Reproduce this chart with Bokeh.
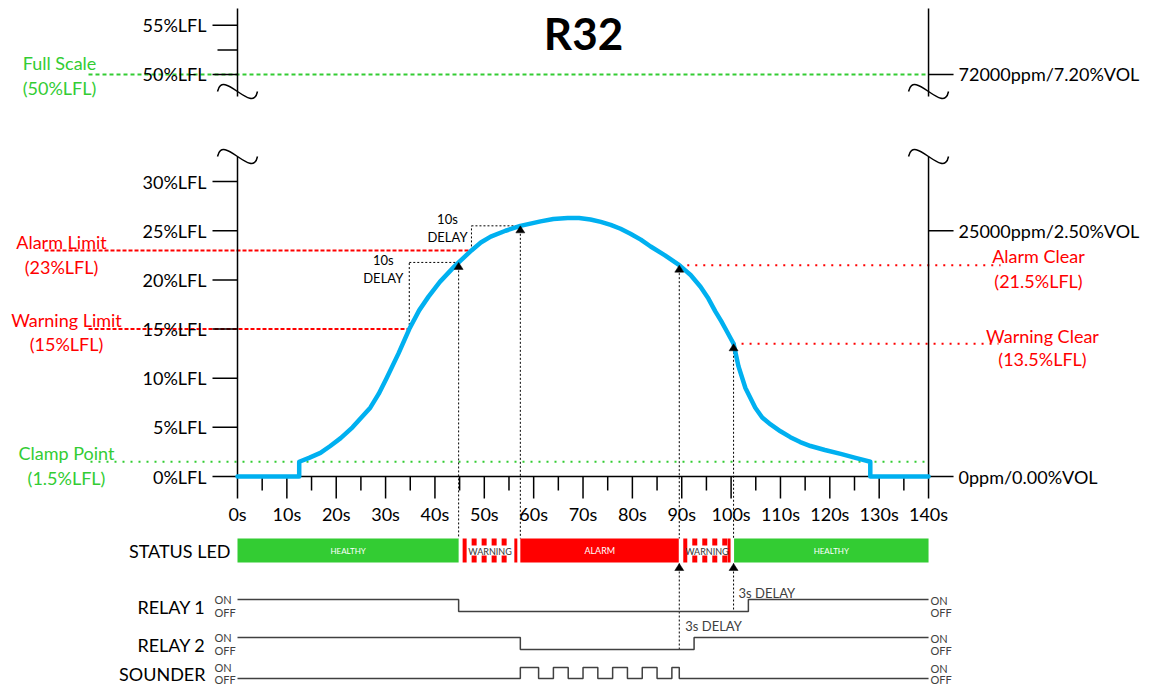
import numpy as np
from bokeh.plotting import figure
from bokeh.models import Range1d
from bokeh.core.properties import value
from bokeh.embed import file_html
from bokeh.resources import INLINE

# ---------------- data ----------------
title = "R32"
time_s = [0, 12.5, 12.5, 14.5, 16.8, 18.8, 20.9, 23.3, 25.1, 26.9,
          28.6, 30.2, 32.6, 34.8, 36.8, 38.7, 41.0, 44.0, 47.4, 49.3,
          51.3, 54.3, 57.3, 61.4, 64.0, 66.9, 69.2, 71.5, 73.6, 75.6,
          77.6, 79.6, 81.7, 83.7, 86.6, 89.5, 91.8, 93.8, 95.4, 96.8,
          98.0, 99.1, 100.5, 101.5, 102.9, 104.9, 106.3, 108.0, 110.0, 112.0,
          114.0, 116.1, 119.0, 122.2, 125.2, 128.2, 128.2, 140]
lfl_pct = [0, 0, 1.5, 1.9, 2.4, 3.1, 3.9, 5.0, 6.0, 7.0,
           8.4, 10.0, 12.5, 15.0, 16.9, 18.3, 19.8, 21.4, 23.0, 23.8,
           24.4, 25.0, 25.5, 25.95, 26.2, 26.3, 26.3, 26.15, 25.9, 25.6,
           25.2, 24.7, 24.1, 23.4, 22.5, 21.5, 20.5, 19.3, 18.1, 16.8,
           15.8, 14.8, 13.5, 11.2, 9.0, 7.0, 6.0, 5.3, 4.6, 4.0,
           3.5, 3.1, 2.7, 2.3, 1.9, 1.5, 0, 0]

full_scale = 50.0
alarm_limit = 23.0
warning_limit = 15.0
alarm_clear = 21.5
warning_clear = 13.5
clamp_point = 1.5

warn_cross = 34.8
warn_on = 44.8
alarm_cross = 47.4
alarm_on = 57.3
alarm_off = 89.5
warn_off = 100.5
relay_delay = 3.0

x_ticks = list(range(0, 141, 10))
x_tick_labels = [f"{t}s" for t in x_ticks]
x_minor = list(range(5, 140, 10))
left_ticks_low = [0, 5, 10, 15, 20, 25, 30]
left_labels_low = [f"{v}%LFL" for v in left_ticks_low]
left_ticks_up = [50, 55]
left_labels_up = ["50%LFL", "55%LFL"]
left_minor_up = [52.5]
right_ticks_low = [0, 25]
right_labels_low = ["0ppm/0.00%VOL", "25000ppm/2.50%VOL"]
right_ticks_up = [50]
right_labels_up = ["72000ppm/7.20%VOL"]

status_start = [0, warn_on, alarm_on, alarm_off, warn_off]
status_end = [warn_on, alarm_on, alarm_off, warn_off, 140]
status_state = ["HEALTHY", "WARNING", "ALARM", "WARNING", "HEALTHY"]

relay1_t = [0, warn_on, warn_off + relay_delay, 140]
relay1_on = [1, 0, 1, 1]
relay2_t = [0, alarm_on, alarm_off + relay_delay, 140]
relay2_on = [1, 0, 1, 1]
sounder_on = [(57.3, 61.0), (64.0, 67.0), (70.0, 73.0), (76.0, 79.0), (82.0, 85.0), (88.0, 89.5)]

# ---------------- layout helpers (reference px -> data units) ----------------
def X(px):
    return (px - 237.0) / 4.936

def Y(py):
    return (476.0 - py) / 9.83

def DX(px):
    return px / 4.936

def DY(py):
    return py / 9.83

UP = 9.1  # upper (broken) panel: plotted value = %LFL - UP

FONT = value("Lato")
GREEN = "#33CC33"
RED = "#FF0000"
BLUE = "#00B0F0"
INK = "#000000"
DARK = "#404040"

p = figure(width=1147, height=687, x_range=Range1d(X(0), X(1147)),
           y_range=Range1d(Y(687), Y(0)), x_axis_type=None, y_axis_type=None,
           toolbar_location=None, output_backend="svg", min_border=0)
p.outline_line_color = None
p.background_fill_color = "white"
p.border_fill_color = "white"


def txt(x, y, t, size=18, color=INK, align="left", style="normal"):
    p.text(x=x, y=y, text=t, text_font=FONT, text_font_size=f"{size}px",
           text_color=color, text_align=align, text_baseline="middle",
           text_font_style=style)


# ---------------- threshold lines ----------------
p.segment(x0=[X(88)], y0=[full_scale - UP], x1=[140], y1=[full_scale - UP],
          line_color=GREEN, line_width=2, line_dash="4 3")
p.segment(x0=[X(90)], y0=[clamp_point], x1=[140], y1=[clamp_point],
          line_color=GREEN, line_width=2, line_dash="2 6")
p.segment(x0=[X(44), X(88)], y0=[alarm_limit, warning_limit],
          x1=[alarm_cross, warn_cross], y1=[alarm_limit, warning_limit],
          line_color=RED, line_width=2, line_dash="4 2")
p.segment(x0=[alarm_off, warn_off], y0=[alarm_clear, warning_clear],
          x1=[X(1000), X(998)], y1=[alarm_clear, warning_clear],
          line_color=RED, line_width=2, line_dash="2 6")

# threshold labels
txt([X(59), X(59)], [Y(62), Y(87)], ["Full Scale", "(50%LFL)"], color=GREEN, align="center")
txt([X(61), X(61)], [Y(241), Y(266)], ["Alarm Limit", "(23%LFL)"], color=RED, align="center")
txt([X(66), X(66)], [Y(319), Y(343)], ["Warning Limit", "(15%LFL)"], color=RED, align="center")
txt([X(66), X(66)], [Y(452), Y(477)], ["Clamp Point", "(1.5%LFL)"], color=GREEN, align="center")
txt([X(1038), X(1038)], [Y(255), Y(280)], ["Alarm Clear", "(21.5%LFL)"], color=RED, align="center")
txt([X(1042), X(1042)], [Y(335), Y(358)], ["Warning Clear", "(13.5%LFL)"], color=RED, align="center")

# ---------------- axes ----------------
for ax in (0, 140):
    p.segment(x0=[ax, ax], y0=[Y(8), Y(156)], x1=[ax, ax], y1=[Y(96), 0],
              line_color=INK, line_width=1.5)
    for cy in (91, 156):
        p.bezier(x0=[ax - DX(20)], y0=[Y(cy)], x1=[ax + DX(20)], y1=[Y(cy)],
                 cx0=[ax - DX(15)], cy0=[Y(cy - 24)], cx1=[ax + DX(15)], cy1=[Y(cy + 24)],
                 line_color=INK, line_width=1.5)

up_y = [v - UP for v in left_ticks_up]
p.segment(x0=[X(212)] * (len(left_ticks_low) + len(up_y)), y0=left_ticks_low + up_y,
          x1=[0] * (len(left_ticks_low) + len(up_y)), y1=left_ticks_low + up_y,
          line_color=INK, line_width=1.5)
p.segment(x0=[X(217)] * len(left_minor_up), y0=[v - UP for v in left_minor_up],
          x1=[0] * len(left_minor_up), y1=[v - UP for v in left_minor_up],
          line_color=INK, line_width=1.5)
txt([X(206)] * len(left_ticks_low), left_ticks_low, left_labels_low, align="right")
txt([X(206)] * len(up_y), up_y, left_labels_up, align="right")

r_y = right_ticks_low + [v - UP for v in right_ticks_up]
p.segment(x0=[140] * len(r_y), y0=r_y, x1=[140 + DX(25)] * len(r_y), y1=r_y,
          line_color=INK, line_width=1.5)
txt([140 + DX(30)] * len(r_y), r_y, right_labels_low + right_labels_up, align="left")

p.segment(x0=[0], y0=[0], x1=[140], y1=[0], line_color=INK, line_width=1.5)
p.segment(x0=x_ticks, y0=[0] * len(x_ticks), x1=x_ticks, y1=[-DY(22)] * len(x_ticks),
          line_color=INK, line_width=1.5)
p.segment(x0=x_minor, y0=[0] * len(x_minor), x1=x_minor, y1=[-DY(14)] * len(x_minor),
          line_color=INK, line_width=1.5)
txt(x_ticks, [-DY(37)] * len(x_ticks), x_tick_labels, align="center")

# ---------------- delay boxes & event markers ----------------
lvl_warn_on = float(np.interp(warn_on, time_s[2:], lfl_pct[2:]))
lvl_alarm_on = float(np.interp(alarm_on, time_s[2:], lfl_pct[2:]))
lvl_alarm_off = float(np.interp(alarm_off, time_s[2:], lfl_pct[2:]))
lvl_warn_off = float(np.interp(warn_off, time_s[2:], lfl_pct[2:]))

DOT = dict(line_color=INK, line_width=1, line_dash="2 2")
p.segment(x0=[warn_cross, warn_cross, alarm_cross, alarm_cross],
          y0=[warning_limit, lvl_warn_on, alarm_limit, lvl_alarm_on],
          x1=[warn_cross, warn_on, alarm_cross, alarm_on],
          y1=[lvl_warn_on, lvl_warn_on, lvl_alarm_on, lvl_alarm_on], **DOT)
ev_t = [warn_on, alarm_on, alarm_off, warn_off]
ev_l = [lvl_warn_on, lvl_alarm_on, lvl_alarm_off, lvl_warn_off]
p.segment(x0=ev_t, y0=ev_l, x1=ev_t, y1=[Y(538)] * 4, **DOT)
p.segment(x0=[alarm_off, warn_off], y0=[Y(563), Y(563)],
          x1=[alarm_off, warn_off], y1=[Y(649), Y(611)], **DOT)

txt([warn_cross - DX(26)] * 2, [Y(259), Y(277)], ["10s", "DELAY"], size=13, align="center")
txt([alarm_cross - DX(24)] * 2, [Y(218), Y(236)], ["10s", "DELAY"], size=13, align="center")

# ---------------- gas curve ----------------
p.line(time_s, lfl_pct, line_color=BLUE, line_width=4.5, line_join="round", line_cap="round")

tips_x = ev_t + [alarm_off, warn_off]
tips_y = ev_l + [Y(563), Y(563)]
p.patches(xs=[[tx - DX(4.5), tx, tx + DX(4.5)] for tx in tips_x],
          ys=[[ty - DY(7), ty, ty - DY(7)] for ty in tips_y],
          fill_color=INK, line_color=INK, line_width=0.5)

# ---------------- status LED ----------------
bt, bb = Y(538), Y(562)
txt([X(230)], [Y(550)], ["STATUS LED"], align="right")
for a, b, s in zip(status_start, status_end, status_state):
    if s == "HEALTHY":
        aa, bb2 = (a, b) if a == 0 else (a + DX(0.5), b)
        p.quad(left=[aa], right=[bb2], top=[bt], bottom=[bb], fill_color=GREEN, line_color=None)
        txt([(aa + bb2) / 2], [Y(550)], ["HEALTHY"], size=8, color="white", align="center")
    elif s == "ALARM":
        p.quad(left=[a], right=[b - DX(0.5)], top=[bt], bottom=[bb], fill_color=RED, line_color=None)
        txt([(a + b) / 2], [Y(550)], ["ALARM"], size=9, color="white", align="center")
    else:
        aa, bb2 = a + DX(4), b - DX(3)
        p.quad(left=[aa, bb2 - DX(3)], right=[aa + DX(4), bb2], top=[bt, bt], bottom=[bb, bb],
               fill_color=RED, line_color=None)
        xs0 = np.arange(aa + DX(9), bb2 - DX(6), DX(10))
        n = len(xs0)
        p.quad(left=list(xs0) * 2, right=list(xs0 + DX(5)) * 2,
               top=[bt] * n + [Y(555)] * n, bottom=[Y(545)] * n + [bb] * n,
               fill_color=RED, line_color=None)
        txt([(aa + bb2) / 2], [Y(550.5)], ["WARNING"], size=9, color="#333333", align="center")

# ---------------- relays / sounder ----------------
def lane(hi_px, lo_px, states):
    return [Y(lo_px) + s * DY(lo_px - hi_px) for s in states]

snd_t = [0]
snd_s = [0]
for a, b in sounder_on:
    snd_t += [a, b]
    snd_s += [1, 0]
snd_t.append(140)
snd_s.append(0)

lanes = [("RELAY 1", relay1_t, relay1_on, 599, 611),
         ("RELAY 2", relay2_t, relay2_on, 637, 649),
         ("SOUNDER", snd_t, snd_s, 667, 678)]
for name, tt, ss, hi, lo in lanes:
    p.step(tt, lane(hi, lo, ss), mode="after", line_color=DARK, line_width=1.5)
    txt([X(205)], [Y((hi + lo) / 2 + 1)], [name], align="right")
    txt([X(214)] * 2, [Y(hi - 0.5), Y(lo + 0.5)], ["ON", "OFF"], size=11, color=DARK, align="left")
    txt([140 + DX(2)] * 2, [Y(hi + 1), Y(lo + 1)], ["ON", "OFF"], size=11, color=DARK, align="left")

txt([warn_off + DX(5)], [Y(592)], ["3s DELAY"], size=13, color=DARK, align="left")
txt([alarm_off + DX(6)], [Y(625)], ["3s DELAY"], size=13, color=DARK, align="left")

# ---------------- title ----------------
txt([X(583)], [Y(32)], [title], size=44, align="center", style="bold")

open("out.html", "w").write(file_html(p, INLINE))
